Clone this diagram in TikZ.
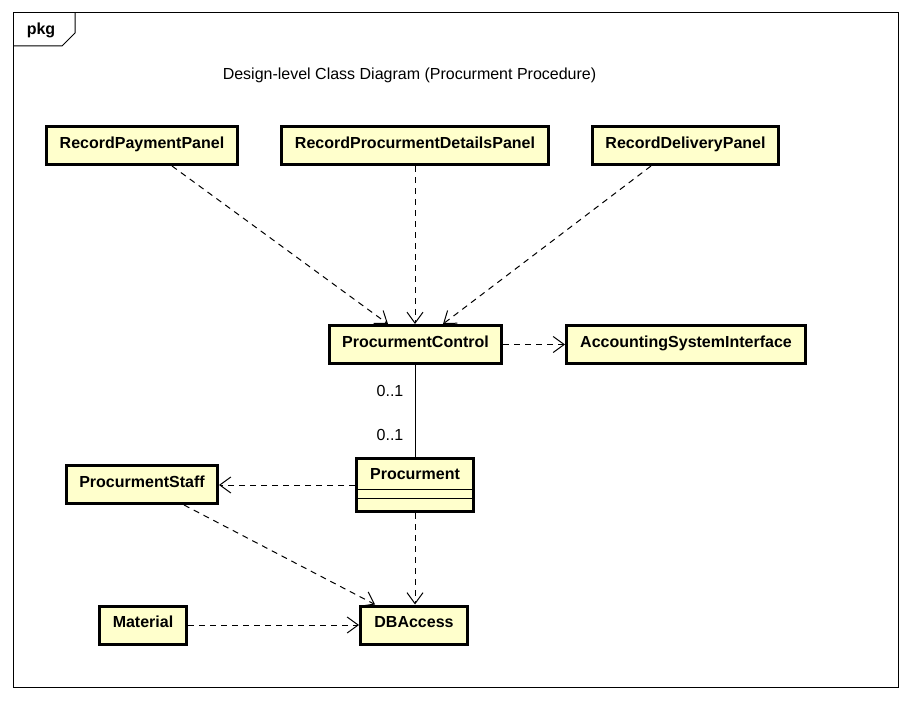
\documentclass[tikz,border=0pt]{standalone}
\usepackage{fontspec}
\setmainfont{Liberation Sans}
\usetikzlibrary{arrows.meta}
\definecolor{clsfill}{RGB}{255,255,204}
\tikzset{
  cls/.style={draw=black, line width=3pt, fill=clsfill, minimum height=38pt, inner sep=0pt,
    text height=11.5pt, text depth=6pt,
    font=\fontsize{16}{19}\selectfont\bfseries},
  dep/.style={draw=black, line width=1pt, dash pattern=on 6pt off 5pt,
    -{Straight Barb[length=11pt,width=16pt,line width=1pt]}},
  assoc/.style={draw=black, line width=1pt},
  lbl/.style={font=\fontsize{16}{19}\selectfont, inner sep=0pt},
}
\begin{document}
\begin{tikzpicture}[x=1pt,y=-1pt]
\useasboundingbox (0,0) rectangle (912,701);
% frame
\draw[line width=1pt] (13,13) rectangle (898,687);
\draw[line width=1pt] (13,46) -- (62,46) -- (75,33) -- (75,13);
\node[lbl, font=\fontsize{16}{19}\selectfont\bfseries] (pkg) at (41,30) {pkg};
\node[lbl] (title) at (409.5,75.5) {Design-level Class Diagram (Procurment Procedure)};
% classes
\node[cls, minimum width=191pt] (rpp) at (142,145.5) {RecordPaymentPanel};
\node[cls, minimum width=267pt] (rpdp) at (415,145.5) {RecordProcurmentDetailsPanel};
\node[cls, minimum width=186pt] (rdp) at (685.5,145.5) {RecordDeliveryPanel};
\node[cls, minimum width=172pt] (pc) at (415.5,344.5) {ProcurmentControl};
\node[cls, minimum width=239pt] (asi) at (686,344.5) {AccountingSystemInterface};
\node[cls, minimum width=117pt, minimum height=53pt] (proc) at (415,485) {};
\node[lbl, font=\fontsize{16}{19}\selectfont\bfseries] (procname) at (415,474) {Procurment};
\draw[line width=1pt] ([yshift=-4pt]proc.west) -- ([yshift=-4pt]proc.east);
\draw[line width=1pt] ([yshift=-13pt]proc.west) -- ([yshift=-13pt]proc.east);
\node[cls, minimum width=151pt] (ps) at (142,484.5) {ProcurmentStaff};
\node[cls, minimum width=87pt] (mat) at (143,625) {Material};
\node[cls, minimum width=107pt] (dba) at (414,625) {DBAccess};
% connectors
\draw[dep] ([xshift=30pt]rpp.south) -- ([xshift=-27.5pt]pc.north);
\draw[dep] (rpdp.south) -- ([xshift=-0.5pt]pc.north);
\draw[dep] ([xshift=-34.5pt]rdp.south) -- ([xshift=27.5pt]pc.north);
\draw[dep] (pc.east) -- (asi.west);
\draw[assoc] ([xshift=-0.5pt]pc.south) -- (proc.north);
\node[lbl] (m1) at (390,391) {0..1};
\node[lbl] (m2) at (390,435) {0..1};
\draw[dep] (proc.west) -- (proc.west -| ps.east);
\draw[dep] ([xshift=42pt]ps.south) -- ([xshift=-39pt]dba.north);
\draw[dep] (proc.south) -- (proc.south |- dba.north);
\draw[dep] (mat.east) -- (mat.east -| dba.west);
\end{tikzpicture}
\end{document}
